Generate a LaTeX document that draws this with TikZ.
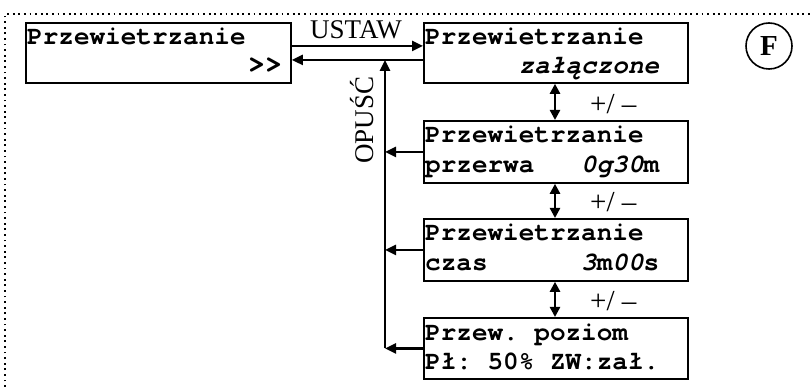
\documentclass[tikz,border=0pt]{standalone}
\usepackage{fontspec}
\setmainfont{Liberation Serif}
\setmonofont{texgyrecursor}[Extension=.otf, UprightFont=*-regular, BoldFont=*-bold, ItalicFont=*-italic, BoldItalicFont=*-bolditalic]
\usetikzlibrary{arrows.meta}
\tikzset{
  lcd/.style={draw, line width=1.8pt, minimum width=264pt, minimum height=61pt, inner sep=0pt, anchor=north west},
  txt/.style={font=\ttfamily\bfseries\fontsize{26}{26}\selectfont, inner sep=0pt, anchor=base west},
  arr/.style={line width=2.4pt, -{Triangle[length=11pt,width=10pt]}},
  darr/.style={line width=2.4pt, {Triangle[length=10pt,width=10pt]}-{Triangle[length=10pt,width=10pt]}},
  lbl/.style={font=\fontsize{27}{27}\selectfont, inner sep=0pt},
  pm/.style={font=\fontsize{29}{29}\selectfont, inner sep=0pt, anchor=base west},
  frame/.style={line width=1.8pt, dash pattern=on 1.8pt off 3.8pt},
}
\begin{document}
\begin{tikzpicture}[x=1pt,y=-1pt]
\useasboundingbox (0,0) rectangle (811,387);
\draw[frame] (5,387) -- (5,14) -- (811,14);

\node[lcd, minimum width=265pt, minimum height=60pt] (A) at (25,22) {};
\node[lcd, minimum height=60pt] (B) at (423,22) {};
\node[lcd, minimum height=62pt] (C) at (423,120) {};
\node[lcd, minimum height=62pt] (D) at (423,218) {};
\node[lcd] (E) at (423,317) {};

\node[txt] (A1) at ([xshift=2pt,yshift=-23pt]A.north west) {Przewietrzanie};
\node[txt] (A2) at ([xshift=4pt,yshift=-51pt]A.north west) {\hspace*{8.4em}{\fontsize{30}{30}\selectfont>\kern-1pt>}};
\node[txt] (B1) at ([xshift=2pt,yshift=-23pt]B.north west) {Przewietrzanie};
\node[txt] (B2) at ([xshift=2pt,yshift=-52pt]B.north west) {\hspace*{3.6em}\itshape załączone};
\node[txt] (C1) at ([xshift=2pt,yshift=-23pt]C.north west) {Przewietrzanie};
\node[txt] (C2) at ([xshift=2pt,yshift=-53pt]C.north west) {przerwa\hspace*{1.8em}{\itshape 0g30}m};
\node[txt] (D1) at ([xshift=2pt,yshift=-23pt]D.north west) {Przewietrzanie};
\node[txt] (D2) at ([xshift=2pt,yshift=-53pt]D.north west) {czas\hspace*{3.6em}{\itshape 3}m{\itshape 00}s};
\node[txt] (E1) at ([xshift=2pt,yshift=-23pt]E.north west) {Przew.\hspace*{0.6em}poziom};
\node[txt] (E2) at ([xshift=2pt,yshift=-52pt]E.north west) {Pł:\hspace*{0.6em}50\%\hspace*{0.6em}ZW:zał.};

\coordinate (bus) at (385,0);
\coordinate (vx) at (555,0);

\draw[arr] ([yshift=7pt]A.east) -- ([yshift=7pt]B.west);
\draw[arr] ([yshift=-7pt]B.west) -- ([yshift=-7pt]A.east);
\node[lbl, anchor=base] (ustaw) at (356,39) {USTAW};

\draw[arr] (E.west -| bus) -- ([yshift=-7pt]A.east -| bus);
\draw[arr] (C.west) -- (C.west -| bus);
\draw[arr] (D.west) -- (D.west -| bus);
\draw[arr] (E.west) -- (E.west -| bus);
\node[lbl, anchor=base, rotate=90] (opusc) at (373,120) {OPUŚĆ};

\draw[darr] (B.south -| vx) -- (C.north -| vx);
\draw[darr] (C.south -| vx) -- (D.north -| vx);
\draw[darr] (D.south -| vx) -- (E.north -| vx);
\node[pm] (pm1) at (590,114) {+/ –};
\node[pm] (pm2) at (590,212) {+/ –};
\node[pm] (pm3) at (590,310) {+/ –};

\node[circle, draw, line width=1.6pt, minimum size=46pt, inner sep=0pt, font=\bfseries\fontsize{29}{29}\selectfont] (F) at (769,46) {F};
\end{tikzpicture}
\end{document}
